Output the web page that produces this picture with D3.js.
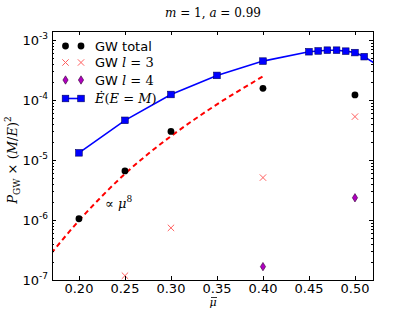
<!DOCTYPE html>
<html>
<head>
<meta charset="utf-8">
<script src="https://cdn.jsdelivr.net/npm/d3@7"></script>
<style>
  body { margin: 0; background: #fff; }
  text { font-family: "DejaVu Sans", sans-serif; }
  .math { font-family: "DejaVu Serif", "Liberation Serif", serif; }
</style>
</head>
<body>
<svg id="chart" width="415" height="312"></svg>
<script>
// values
var muTotal = [0.20, 0.25, 0.30, 0.40, 0.50];
var gwTotal = [1.05e-6, 6.6e-6, 3.0e-5, 1.57e-4, 1.22e-4];

var muL3 = [0.25, 0.30, 0.40, 0.50];
var gwL3 = [1.18e-7, 7.4e-7, 5.1e-6, 5.3e-5];

var muL4 = [0.40, 0.50];
var gwL4 = [1.67e-7, 2.35e-6];

var muEdot = [0.20, 0.25, 0.30, 0.35, 0.40, 0.45, 0.46, 0.47, 0.48, 0.49, 0.50, 0.51, 0.53];
var eDot = [1.32e-5, 4.6e-5, 1.24e-4, 2.58e-4, 4.47e-4, 6.4e-4, 6.6e-4, 6.8e-4, 6.8e-4, 6.55e-4, 6.2e-4, 5.3e-4, 3.4e-4];
var eDotMarked = 12; // last point lies outside the axes

// the "proportional to mu^8" guide line
var muFit = [0.17, 0.20, 0.225, 0.25, 0.275, 0.30, 0.325, 0.35, 0.375, 0.40];
var pFit = [2.8e-7, 9.8e-7, 2.5e-6, 5.9e-6, 1.26e-5, 2.5e-5, 4.7e-5, 8.5e-5, 1.47e-4, 2.48e-4];

var xTicks = [0.20, 0.25, 0.30, 0.35, 0.40, 0.45, 0.50];
var xTickLabels = ["0.20", "0.25", "0.30", "0.35", "0.40", "0.45", "0.50"];
var yTicks = [1e-7, 1e-6, 1e-5, 1e-4, 1e-3];
var yTickExp = ["-7", "-6", "-5", "-4", "-3"];

var pLeft = 52, pRight = 373, pTop = 31, pBottom = 280;

var svg = d3.select("#chart");

var x = d3.scaleLinear().domain([0.1707, 0.5196]).range([pLeft, pRight]);
var y = d3.scaleLog().domain([1e-7, 1.42e-3]).range([pBottom, pTop]);

svg.append("defs").append("clipPath").attr("id", "plotclip")
  .append("rect").attr("x", pLeft).attr("y", pTop)
  .attr("width", pRight - pLeft).attr("height", pBottom - pTop);

var plot = svg.append("g").attr("clip-path", "url(#plotclip)");

// dashed mu^8 line
var fitLine = d3.line()
  .x(function (d, i) { return x(muFit[i]); })
  .y(function (d) { return y(d); })
  .curve(d3.curveMonotoneX);
plot.append("path")
  .attr("d", fitLine(pFit))
  .attr("fill", "none")
  .attr("stroke", "#ff0000")
  .attr("stroke-width", 2)
  .attr("stroke-dasharray", "5,3.5");

// Edot line
var edLine = d3.line()
  .x(function (d, i) { return x(muEdot[i]); })
  .y(function (d) { return y(d); });
plot.append("path")
  .attr("d", edLine(eDot))
  .attr("fill", "none")
  .attr("stroke", "#0000ff")
  .attr("stroke-width", 1.6);

function square(g, cx, cy) {
  g.append("rect")
    .attr("x", cx - 3.3).attr("y", cy - 3.3)
    .attr("width", 6.6).attr("height", 6.6)
    .attr("fill", "#0000ff").attr("stroke", "#000060").attr("stroke-width", 0.6);
}
function dot(g, cx, cy) {
  g.append("circle").attr("cx", cx).attr("cy", cy).attr("r", 3.4).attr("fill", "#000");
}
function cross(g, cx, cy) {
  var s = 3.2;
  g.append("path")
    .attr("d", "M" + (cx - s) + "," + (cy - s) + "L" + (cx + s) + "," + (cy + s) +
               "M" + (cx - s) + "," + (cy + s) + "L" + (cx + s) + "," + (cy - s))
    .attr("stroke", "#ff6060").attr("stroke-width", 1).attr("fill", "none");
}
function diamond(g, cx, cy) {
  var w = 2.6, h = 4.2;
  g.append("path")
    .attr("d", "M" + cx + "," + (cy - h) + "L" + (cx + w) + "," + cy + "L" + cx + "," + (cy + h) +
               "L" + (cx - w) + "," + cy + "Z")
    .attr("fill", "#b000c0").attr("stroke", "#300030").attr("stroke-width", 0.6);
}

muEdot.forEach(function (m, i) { if (i < eDotMarked) square(plot, x(m), y(eDot[i])); });
muTotal.forEach(function (m, i) { dot(plot, x(m), y(gwTotal[i])); });
muL3.forEach(function (m, i) { cross(plot, x(m), y(gwL3[i])); });
muL4.forEach(function (m, i) { diamond(plot, x(m), y(gwL4[i])); });

// frame
svg.append("rect")
  .attr("x", pLeft + 0.5).attr("y", pTop + 0.5)
  .attr("width", pRight - pLeft).attr("height", pBottom - pTop)
  .attr("fill", "none").attr("stroke", "#000").attr("stroke-width", 1);

// x ticks (inside, bottom and top)
var ax = svg.append("g");
xTicks.forEach(function (t, i) {
  var px = Math.round(x(t)) + 0.5;
  ax.append("line").attr("x1", px).attr("x2", px).attr("y1", pBottom).attr("y2", pBottom - 4).attr("stroke", "#000");
  ax.append("line").attr("x1", px).attr("x2", px).attr("y1", pTop).attr("y2", pTop + 4).attr("stroke", "#000");
  ax.append("text").attr("x", x(t)).attr("y", pBottom + 12.5)
    .attr("text-anchor", "middle").attr("font-size", 13).text(xTickLabels[i]);
});

// y ticks, major + minor
yTicks.forEach(function (t, i) {
  var py = Math.round(y(t)) + 0.5;
  ax.append("line").attr("x1", pLeft).attr("x2", pLeft + 4).attr("y1", py).attr("y2", py).attr("stroke", "#000");
  ax.append("line").attr("x1", pRight).attr("x2", pRight - 4).attr("y1", py).attr("y2", py).attr("stroke", "#000");
  var lab = ax.append("text").attr("x", pLeft - 4).attr("y", y(t) + 5)
    .attr("text-anchor", "end").attr("font-size", 13);
  lab.append("tspan").text("10");
  lab.append("tspan").attr("dy", -6).attr("font-size", 9).text(yTickExp[i]);
});
y.ticks().forEach(function (t) {
  var py = Math.round(y(t)) + 0.5;
  if (py < pTop || py > pBottom) return;
  ax.append("line").attr("x1", pLeft).attr("x2", pLeft + 2).attr("y1", py).attr("y2", py).attr("stroke", "#000");
  ax.append("line").attr("x1", pRight).attr("x2", pRight - 2).attr("y1", py).attr("y2", py).attr("stroke", "#000");
});

// title
var title = svg.append("text").attr("class", "math").attr("x", 213).attr("y", 17)
  .attr("text-anchor", "middle").attr("font-size", 12);
title.append("tspan").attr("font-style", "italic").text("m");
title.append("tspan").text(" = 1,  ");
title.append("tspan").attr("font-style", "italic").text("a");
title.append("tspan").text(" = 0.99");

// axis labels (mu with a bar drawn above it)
svg.append("text").attr("class", "math").attr("x", 213).attr("y", 306)
  .attr("text-anchor", "middle").attr("font-size", 11).attr("font-style", "italic").text("\u03bc");
svg.append("line").attr("x1", 211).attr("x2", 217).attr("y1", 297.5).attr("y2", 297.5)
  .attr("stroke", "#000").attr("stroke-width", 0.8);

var yl = svg.append("text").attr("class", "math")
  .attr("transform", "translate(17,160) rotate(-90)")
  .attr("text-anchor", "middle").attr("font-size", 13);
yl.append("tspan").attr("font-style", "italic").text("P");
yl.append("tspan").attr("font-size", 9).attr("dy", 3).text("GW");
yl.append("tspan").attr("dy", -3).text(" \u00d7 (");
yl.append("tspan").attr("font-style", "italic").text("M");
yl.append("tspan").text("/");
yl.append("tspan").attr("font-style", "italic").text("E");
yl.append("tspan").text(")");
yl.append("tspan").attr("font-size", 9).attr("dy", -6).text("2");

// annotation
var ann = svg.append("text").attr("class", "math").attr("x", 105).attr("y", 208).attr("font-size", 13);
ann.append("tspan").text("\u221d ");
ann.append("tspan").attr("font-style", "italic").text("\u03bc");
ann.append("tspan").attr("font-size", 9).attr("dy", -6).text("8");

// legend
var leg = svg.append("g");
var rows = [46, 62.5, 80, 98.5];
dot(leg, 65.5, rows[0]); dot(leg, 81, rows[0]);
cross(leg, 65.5, rows[1]); cross(leg, 81, rows[1]);
diamond(leg, 65.5, rows[2]); diamond(leg, 81, rows[2]);
leg.append("line").attr("x1", 65.5).attr("x2", 81).attr("y1", rows[3]).attr("y2", rows[3])
  .attr("stroke", "#0000ff").attr("stroke-width", 1.6);
square(leg, 65.5, rows[3]); square(leg, 81, rows[3]);

function legText(row) {
  return leg.append("text").attr("x", 95).attr("y", rows[row] + 4.5).attr("font-size", 13);
}
legText(0).text("GW total");
var t1 = legText(1); t1.append("tspan").text("GW ");
t1.append("tspan").attr("class", "math").attr("font-style", "italic").text("l");
t1.append("tspan").attr("class", "math").text(" = 3");
var t2 = legText(2); t2.append("tspan").text("GW ");
t2.append("tspan").attr("class", "math").attr("font-style", "italic").text("l");
t2.append("tspan").attr("class", "math").text(" = 4");
var t3 = legText(3).attr("class", "math");
t3.append("tspan").attr("font-style", "italic").text("\u0116");
t3.append("tspan").text("(");
t3.append("tspan").attr("font-style", "italic").text("E");
t3.append("tspan").text(" = ");
t3.append("tspan").attr("font-style", "italic").text("M");
t3.append("tspan").text(")");
</script>
</body>
</html>
